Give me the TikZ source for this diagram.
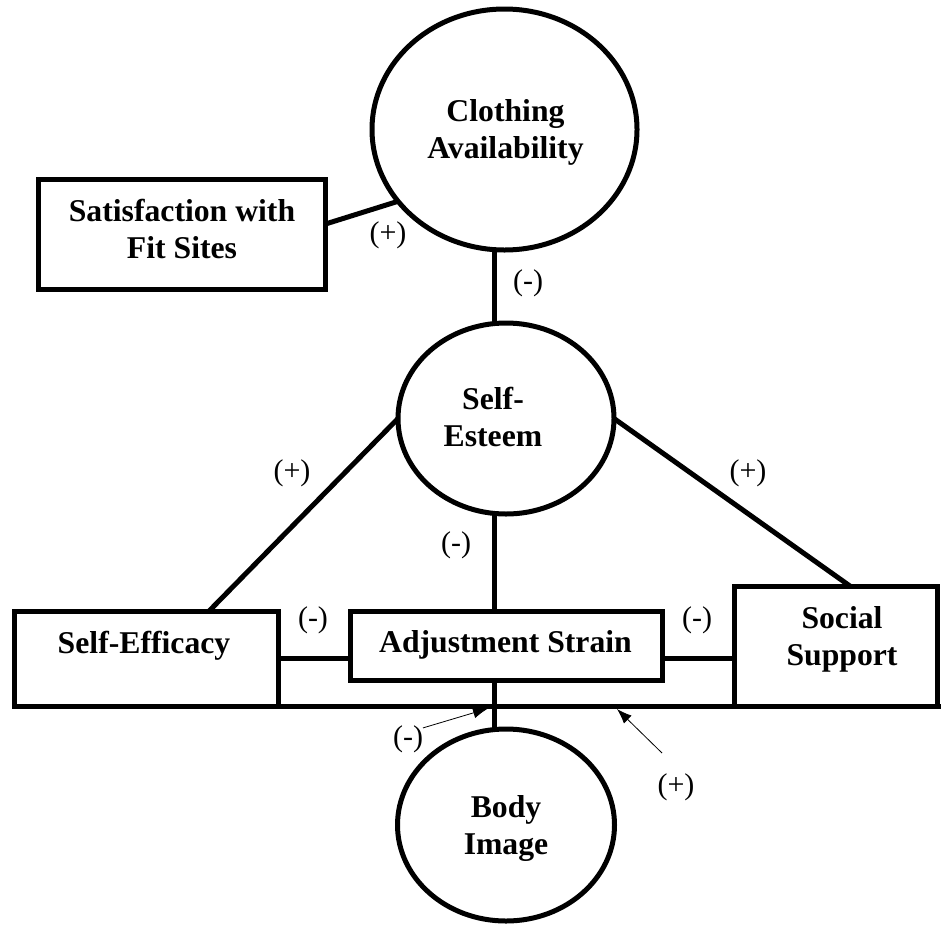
\documentclass[tikz,border=0pt]{standalone}
\usepackage{fontspec}
\setmainfont{Liberation Serif}
\usetikzlibrary{calc,arrows.meta,shapes.geometric}
\begin{document}
\begin{tikzpicture}[x=1pt,y=-1pt,
  every node/.style={inner sep=0pt, outer sep=0pt},
  conn/.style={line width=5pt},
  box/.style={draw, line width=5pt, rectangle},
  oval/.style={draw, line width=5pt, ellipse},
  vname/.style={font=\fontsize{31.7}{37}\selectfont\bfseries, align=center},
  sign/.style={font=\fontsize{30}{34}\selectfont},
  thinarrow/.style={line width=0.8pt, -{Latex[length=15pt,width=11pt]}}]
\fill[white] (0,0) rectangle (941,924);
\useasboundingbox (0,0) rectangle (941,924);

% shapes
\node[box, minimum width=287pt, minimum height=110pt] (sat) at (182,234) {};
\node[oval, minimum width=265pt, minimum height=241pt] (ca) at (504.5,129.5) {};
\node[oval, minimum width=216pt, minimum height=191pt] (se) at (506,418.5) {};
\node[oval, minimum width=217pt, minimum height=192pt] (bi) at (506,825) {};
\node[box, minimum width=264pt, minimum height=95pt] (sef) at (146,658.5) {};
\node[box, minimum width=312pt, minimum height=69pt] (adj) at (506,645.5) {};
\node[box, minimum width=203pt, minimum height=120pt] (ss) at (835.5,646) {};

% texts
\node[vname] (satt) at (182,228.7) {Satisfaction with\\Fit Sites};
\node[vname] (cat) at (505.5,132) {Clothing\\Availability};
\node[vname] (set) at (493,417) {Self-\\Esteem};
\node[vname, anchor=base] (seft) at (144,653.3) {Self-Efficacy};
\node[vname, anchor=base] (adjt) at (505.5,652.7) {Adjustment Strain};
\node[vname] (sst) at (842,639) {Social\\Support};
\node[vname] (bit) at (506,828) {Body\\Image};

% connectors
\coordinate (axis) at (494,0);
\coordinate (hr) at (941,706);
\draw[conn] ([yshift=10pt]sat.east) -- (ca.214);
\draw[conn] (ca.south -| axis) -- (se.north -| axis);
\draw[conn] (se.west) -- ($(sef.north west)!.739!(sef.north east)$);
\draw[conn] (se.east) -- ($(ss.north west)!.571!(ss.north east)$);
\draw[conn] (se.south -| axis) -- (adj.north -| axis);
\draw[conn] (sef.east) -- (sef.east -| adj.west);
\draw[conn] (adj.east |- sef.east) -- (sef.east -| ss.west);
\draw[conn] (adj.south -| axis) -- (bi.north -| axis);
\draw[conn] (sef.south west) -- (hr);

% signs
\node[sign] (s1) at (388,235) {(+)};
\node[sign] (s2) at (528,283) {(-)};
\node[sign] (s3) at (292,473.5) {(+)};
\node[sign] (s4) at (748,473) {(+)};
\node[sign] (s5) at (456,545) {(-)};
\node[sign] (s6) at (313,620) {(-)};
\node[sign] (s7) at (697,620) {(-)};
\node[sign] (lm) at (408,739.5) {(-)};
\node[sign] (lp) at (676,787) {(+)};

% thin arrows
\coordinate (tipm) at (488,708.5);
\coordinate (tailp) at (662,753);
\coordinate (tipp) at (617,709);
\draw[thinarrow] ([yshift=-2pt]lm.north east) -- (tipm);
\draw[thinarrow] (tailp) -- (tipp);
\end{tikzpicture}
\end{document}
